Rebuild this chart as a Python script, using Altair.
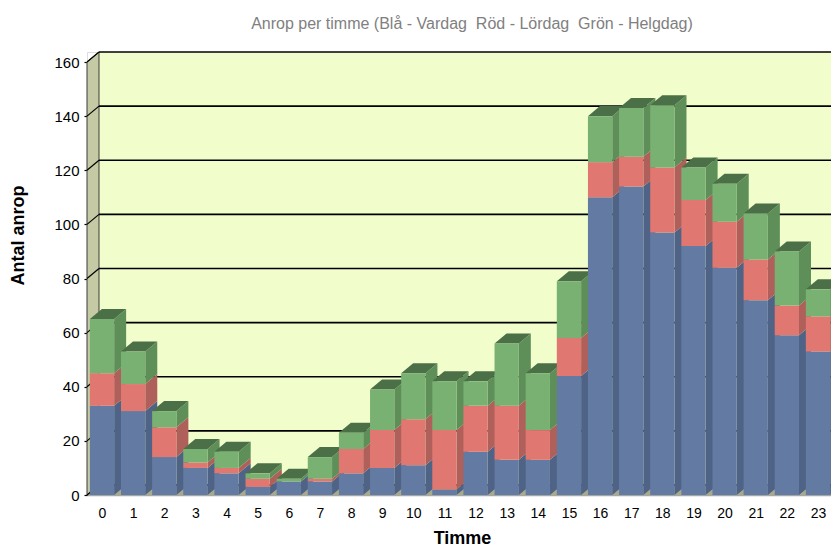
import altair as alt
import pandas as pd

# ---- data ----
hours = list(range(24))
series = ["Vardag", "Lördag", "Helgdag"]
vardag = [33, 31, 14, 10, 8, 3, 5, 5, 8, 10, 11, 2, 16, 13, 13, 44, 110, 114, 97, 92, 84, 72, 59, 53]
lordag = [12, 10, 11, 2, 2, 3, 0, 1, 9, 14, 17, 22, 17, 20, 11, 14, 13, 11, 24, 17, 17, 15, 11, 13]
helgdag = [20, 12, 6, 5, 6, 2, 1, 8, 6, 15, 17, 18, 9, 23, 21, 21, 17, 18, 23, 12, 14, 17, 20, 10]
y_ticks = [0, 20, 40, 60, 80, 100, 120, 140, 160]

title_text = "Anrop per timme (Blå - Vardag\u00a0 Röd - Lördag\u00a0 Grön - Helgdag)"

# ---- styling ----
front_colors = ["#637ba3", "#e07771", "#79b172"]
side_colors = ["#4e6386", "#b0605a", "#5f8f59"]
top_colors = ["#3f5273", "#8f4a46", "#4b6f46"]
wall_color = "#f2fdcc"
side_wall_color = "#c5caa5"
floor_color = "#a8aa8c"
FONT = "Liberation Sans"

HALF = 0.39      # half bar width (x units)
DX = 0.3855      # depth shift in x units
DY = 3.7         # depth shift in y units
XMIN, XMAX = -0.482, 23.418
YMAX = 160 + DY

values = {"Vardag": vardag, "Lördag": lordag, "Helgdag": helgdag}

fr, sd, tp = [], [], []
sid = 0
for i, h in enumerate(hours):
    lo = 0
    top_row = None
    for s in series:
        v = values[s][i]
        if v <= 0:
            continue
        hi = lo + v
        row = dict(id=sid, hour=h, series=s, xl=h - HALF, xr=h + HALF, lo=lo, hi=hi)
        fr.append(row)
        sd.append(dict(id=sid, series=s, x=h + HALF, y=lo, y2=hi))
        sd.append(dict(id=sid, series=s, x=h + HALF + DX, y=lo + DY, y2=hi + DY))
        top_row = row
        sid += 1
        lo = hi
    if top_row is not None:
        t = top_row
        tp.append(dict(id=t["id"], series=t["series"], y=t["hi"], x=t["xl"], x2=t["xr"]))
        tp.append(dict(id=t["id"], series=t["series"], y=t["hi"] + DY, x=t["xl"] + DX, x2=t["xr"] + DX))

front_df = pd.DataFrame(fr)
side_df = pd.DataFrame(sd)
top_df = pd.DataFrame(tp)

xs = alt.Scale(domain=[XMIN, XMAX], nice=False, zero=False)
ys = alt.Scale(domain=[0, YMAX], nice=False, zero=False)

xaxis = alt.Axis(values=hours, title="Timme", format="d", labelAngle=0,
                 labelFont=FONT, labelFontSize=14, labelColor="black",
                 tickSize=0, labelPadding=11, domainColor="#a6a6a6", domainWidth=1.5,
                 grid=False, titleFont=FONT, titleFontSize=18, titleFontWeight="bold",
                 titleColor="black", titleX=375, titleY=43, titleAlign="center",
                 titleBaseline="middle")
yaxis = alt.Axis(values=y_ticks, title="Antal anrop", format="d", domain=False,
                 labelFont=FONT, labelFontSize=15, labelColor="black",
                 tickSize=3, tickColor="black", tickWidth=1.2, labelPadding=5,
                 grid=False, titleFont=FONT, titleFontSize=18, titleFontWeight="bold",
                 titleColor="black", titleX=-69, titleY=183, titleAngle=270,
                 titleAlign="center", titleBaseline="middle")


def X(field):
    return alt.X(field, type="quantitative", scale=xs, axis=xaxis)


def Y(field):
    return alt.Y(field, type="quantitative", scale=ys, axis=yaxis, stack=None)


# back wall
wall = alt.Chart(pd.DataFrame([dict(x=XMIN + DX, x2=XMAX, y=DY, y2=YMAX)])).mark_rect(
    color=wall_color).encode(x=X("x"), x2="x2", y=Y("y"), y2="y2")

# floor
floor = alt.Chart(pd.DataFrame([dict(y=0, x=XMIN, x2=XMAX), dict(y=DY, x=XMIN + DX, x2=XMAX)])).mark_area(
    orient="horizontal", color=floor_color).encode(y=Y("y"), x=X("x"), x2="x2")

# left side wall
sidewall = alt.Chart(pd.DataFrame([dict(x=XMIN, y=0, y2=160), dict(x=XMIN + DX, y=DY, y2=160 + DY)])).mark_area(
    orient="vertical", color=side_wall_color, stroke="#3a3a3a", strokeWidth=1).encode(
    x=X("x"), y=Y("y"), y2="y2")

grid_df = pd.DataFrame([dict(v=v, yb=v + DY, x0=XMIN, x1=XMIN + DX, x2=XMAX) for v in y_ticks])
grid_back = alt.Chart(grid_df).mark_rule(color="black", strokeWidth=1.7).encode(
    x=X("x1"), x2="x2", y=Y("yb"))
grid_slant = alt.Chart(grid_df).mark_rule(color="black", strokeWidth=1.2).encode(
    x=X("x0"), x2="x1", y=Y("v"), y2="yb")

sides = alt.Chart(side_df).mark_area(orient="vertical").encode(
    x=X("x"), y=Y("y"), y2="y2", detail="id:N",
    color=alt.Color("series:N", scale=alt.Scale(domain=series, range=side_colors), legend=None))

tops = alt.Chart(top_df).mark_area(orient="horizontal").encode(
    y=Y("y"), x=X("x"), x2="x2", detail="id:N",
    color=alt.Color("series:N", scale=alt.Scale(domain=series, range=top_colors), legend=None))

fronts = alt.Chart(front_df).mark_rect().encode(
    x=X("xl"), x2="xr", y=Y("lo"), y2="hi",
    color=alt.Color("series:N", scale=alt.Scale(domain=series, range=front_colors), legend=None))

chart = alt.layer(wall, floor, sidewall, grid_back, grid_slant, sides, tops, fronts).resolve_scale(
    color="independent"
).properties(
    width=744, height=443,
    autosize=alt.AutoSizeParams(type="none"),
    padding={"left": 79, "top": 44, "right": 0, "bottom": 51},
    title=alt.TitleParams(title_text, font=FONT, fontSize=16, fontWeight="normal", color="#808080",
                          anchor="middle", frame="group", dx=13, offset=18),
).configure_view(stroke=None).configure(background="white")

chart.save("out.html", embed_options={"renderer": "svg", "actions": False})
